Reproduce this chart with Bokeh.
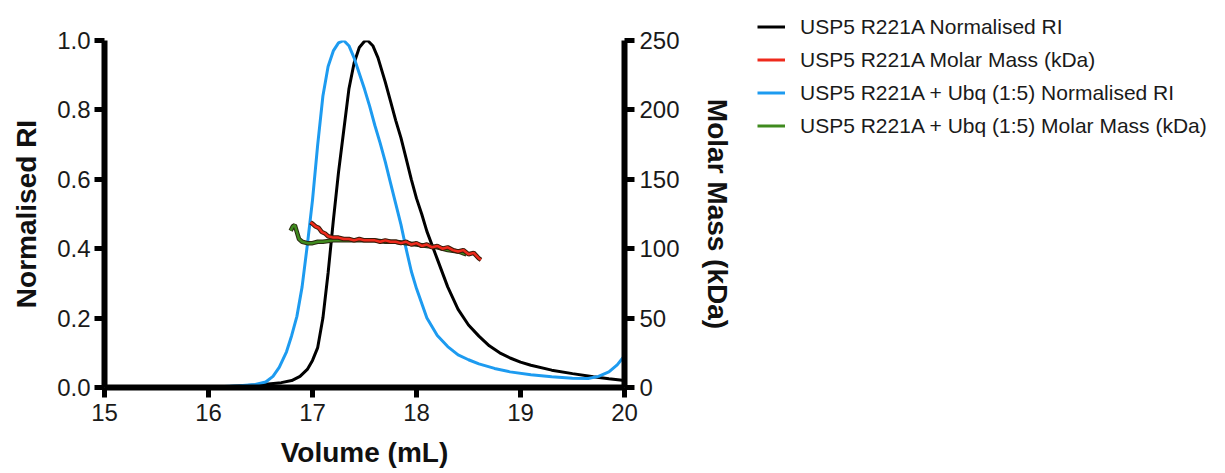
from bokeh.plotting import figure
from bokeh.layouts import row
from bokeh.models import (Range1d, LinearAxis, FixedTicker, PrintfTickFormatter,
                          Legend, LegendItem)
from bokeh.embed import file_html
from bokeh.resources import INLINE

# ---------------- data ----------------
blue_v = [15.90, 16.10, 16.30, 16.45, 16.55, 16.62, 16.68, 16.75, 16.80, 16.85, 16.90, 16.95,
          17.00, 17.05, 17.10, 17.15, 17.20, 17.25, 17.30, 17.35, 17.40, 17.45, 17.50, 17.55,
          17.60, 17.65, 17.70, 17.75, 17.80, 17.85, 17.90, 17.95, 18.00, 18.10, 18.20, 18.30,
          18.40, 18.50, 18.60, 18.75, 18.90, 19.10, 19.30, 19.50, 19.65, 19.75, 19.85, 19.93, 20.00]
blue_ri = [0.000, 0.002, 0.005, 0.009, 0.016, 0.032, 0.058, 0.103, 0.150, 0.205, 0.290, 0.410,
           0.540, 0.700, 0.840, 0.925, 0.970, 0.993, 1.000, 0.985, 0.950, 0.905, 0.860, 0.810,
           0.755, 0.705, 0.650, 0.590, 0.530, 0.470, 0.400, 0.335, 0.285, 0.200, 0.150, 0.118,
           0.094, 0.080, 0.068, 0.055, 0.045, 0.037, 0.031, 0.027, 0.026, 0.032, 0.045, 0.065, 0.092]

black_v = [15.90, 16.20, 16.50, 16.70, 16.80, 16.88, 16.95, 17.00, 17.05, 17.10, 17.15, 17.20,
           17.25, 17.30, 17.35, 17.40, 17.45, 17.50, 17.53, 17.58, 17.63, 17.70, 17.75, 17.80,
           17.85, 17.90, 17.95, 18.00, 18.05, 18.10, 18.20, 18.30, 18.40, 18.50, 18.60, 18.70,
           18.80, 18.90, 19.00, 19.10, 19.30, 19.50, 19.70, 19.85, 20.00]
black_ri = [0.000, 0.003, 0.008, 0.014, 0.020, 0.032, 0.052, 0.078, 0.115, 0.200, 0.330, 0.480,
            0.620, 0.740, 0.860, 0.935, 0.980, 0.998, 1.000, 0.985, 0.950, 0.880, 0.825, 0.770,
            0.720, 0.660, 0.600, 0.545, 0.500, 0.450, 0.370, 0.290, 0.225, 0.180, 0.148, 0.120,
            0.100, 0.085, 0.073, 0.064, 0.050, 0.040, 0.031, 0.025, 0.020]

red_v = [16.98, 17.00, 17.03, 17.06, 17.09, 17.12, 17.15, 17.20, 17.25, 17.30, 17.35, 17.40,
         17.45, 17.50, 17.55, 17.60, 17.65, 17.70, 17.75, 17.80, 17.85, 17.90, 17.95, 18.00,
         18.05, 18.10, 18.15, 18.20, 18.25, 18.30, 18.35, 18.40, 18.45, 18.50, 18.55, 18.60, 18.62]
red_mm = [119, 118, 116, 115, 112, 111, 109, 108, 108, 107, 107, 106,
          107, 106, 106, 106, 105, 106, 105, 105, 104, 105, 103, 104,
          102, 103, 101, 102, 100, 101, 99, 98, 99, 96, 97, 93, 92]

green_v = [16.79, 16.81, 16.83, 16.85, 16.87, 16.90, 16.95, 17.00, 17.05, 17.10, 17.20, 17.30,
           17.40, 17.50, 17.60, 17.70, 17.80, 17.90, 18.00, 18.10, 18.20, 18.30, 18.40, 18.48]
green_mm = [113, 116, 117, 112, 107, 105, 104, 104, 105, 105, 106, 106,
            106, 106, 106, 105, 105, 104, 103, 102, 101, 99, 98, 96]

x_ticks = [15, 16, 17, 18, 19, 20]
y_ticks = [0.0, 0.2, 0.4, 0.6, 0.8, 1.0]
mm_ticks = [0, 50, 100, 150, 200, 250]

labels = ["USP5 R221A Normalised RI",
          "USP5 R221A Molar Mass (kDa)",
          "USP5 R221A + Ubq (1:5) Normalised RI",
          "USP5 R221A + Ubq (1:5) Molar Mass (kDa)"]

# ---------------- layout constants ----------------
FONT = "Liberation Sans"
H = 470
W1 = 740
W2 = 472
FRAME_BOTTOM = 387
AXIS_TOP = 40        # pixel row of RI = 1.0 / 250 kDa
LEGEND_BOTTOM = 142  # pixel row of the legend's lower edge

black_c = "black"
red_c = "#ee2a1c"
green_c = "#3f8a1e"
blue_c = "#1d9bf0"

# legend figure (built first so we know whether frame alignment can be switched off)
q = figure(width=W2, height=H, output_backend="svg", toolbar_location=None,
           x_range=Range1d(0, 1), y_range=Range1d(0, 1), min_border=0,
           x_axis_location=None, y_axis_location=None)
try:
    q.frame_align = False
    unaligned = True
except Exception:
    unaligned = False

if unaligned:
    frame_top = AXIS_TOP
else:
    frame_top = 5
ri_top = (FRAME_BOTTOM - frame_top) / (FRAME_BOTTOM - AXIS_TOP)

p = figure(width=W1, height=H, output_backend="svg", toolbar_location=None,
           x_range=Range1d(15, 20), y_range=Range1d(0, ri_top),
           min_border_left=104, min_border_right=W1 - 624,
           min_border_top=frame_top, min_border_bottom=H - FRAME_BOTTOM)
if unaligned:
    p.frame_align = False
p.extra_y_ranges = {"mm": Range1d(0, mm_ticks[-1] * ri_top)}
p.grid.visible = False
p.outline_line_color = None

p.line(black_v, black_ri, line_color=black_c, line_width=3)
p.line(blue_v, blue_ri, line_color=blue_c, line_width=3)
p.line(green_v, green_mm, y_range_name="mm", line_color="#2a2a12", line_width=4.5)
p.line(green_v, green_mm, y_range_name="mm", line_color=green_c, line_width=2.5)
p.line(red_v, red_mm, y_range_name="mm", line_color="#3a1a08", line_width=4.5)
p.line(red_v, red_mm, y_range_name="mm", line_color=red_c, line_width=2.5)


def style_axis(ax):
    ax.axis_line_width = 6
    ax.axis_line_color = "black"
    ax.major_tick_line_width = 5
    ax.major_tick_line_color = "black"
    ax.major_tick_out = 10
    ax.major_tick_in = 0
    ax.minor_tick_line_color = None
    ax.major_label_text_font = FONT
    ax.major_label_text_font_size = "24px"
    ax.major_label_text_color = "#1a1a1a"
    ax.axis_label_text_font = FONT
    ax.axis_label_text_font_size = "28px"
    ax.axis_label_text_font_style = "bold"
    ax.axis_label_text_color = "#111111"


xa = p.xaxis[0]
style_axis(xa)
xa.ticker = FixedTicker(ticks=x_ticks)
xa.axis_label = "Volume (mL)"
xa.major_label_standoff = 6
xa.axis_label_standoff = 13

ya = p.yaxis[0]
style_axis(ya)
ya.ticker = FixedTicker(ticks=y_ticks)
ya.formatter = PrintfTickFormatter(format="%.1f")
ya.bounds = (y_ticks[0], y_ticks[-1])
ya.axis_label = "Normalised RI"
ya.major_label_standoff = 4
ya.axis_label_standoff = 12

ra = LinearAxis(y_range_name="mm", ticker=FixedTicker(ticks=mm_ticks),
                bounds=(mm_ticks[0], mm_ticks[-1]), axis_label="Molar Mass (kDa)")
style_axis(ra)
ra.major_label_standoff = 5
ra.axis_label_standoff = 19
p.add_layout(ra, "right")

# ---------------- legend ----------------
q.grid.visible = False
q.outline_line_color = None
# legend proxies: the real series, lying outside this panel's visible ranges
k_black = q.line(black_v, black_ri, line_color=black_c, line_width=3)
k_red = q.line(red_v, red_mm, line_color=red_c, line_width=3)
k_blue = q.line(blue_v, blue_ri, line_color=blue_c, line_width=3)
k_green = q.line(green_v, green_mm, line_color=green_c, line_width=3)

q_frame_bottom = H if unaligned else FRAME_BOTTOM
legend = Legend(items=[LegendItem(label=labels[0], renderers=[k_black]),
                       LegendItem(label=labels[1], renderers=[k_red]),
                       LegendItem(label=labels[2], renderers=[k_blue]),
                       LegendItem(label=labels[3], renderers=[k_green])],
                location=(17, q_frame_bottom - LEGEND_BOTTOM))
legend.border_line_color = None
legend.background_fill_alpha = 0
legend.padding = 0
legend.margin = 0
legend.spacing = 0
legend.glyph_width = 28
legend.glyph_height = 33
legend.label_height = 33
legend.label_standoff = 15
legend.label_text_font = FONT
legend.label_text_font_size = "21px"
legend.label_text_color = "#1a1a1a"
q.add_layout(legend, "center")

layout = row(p, q)
open("out.html", "w").write(file_html(layout, INLINE))
